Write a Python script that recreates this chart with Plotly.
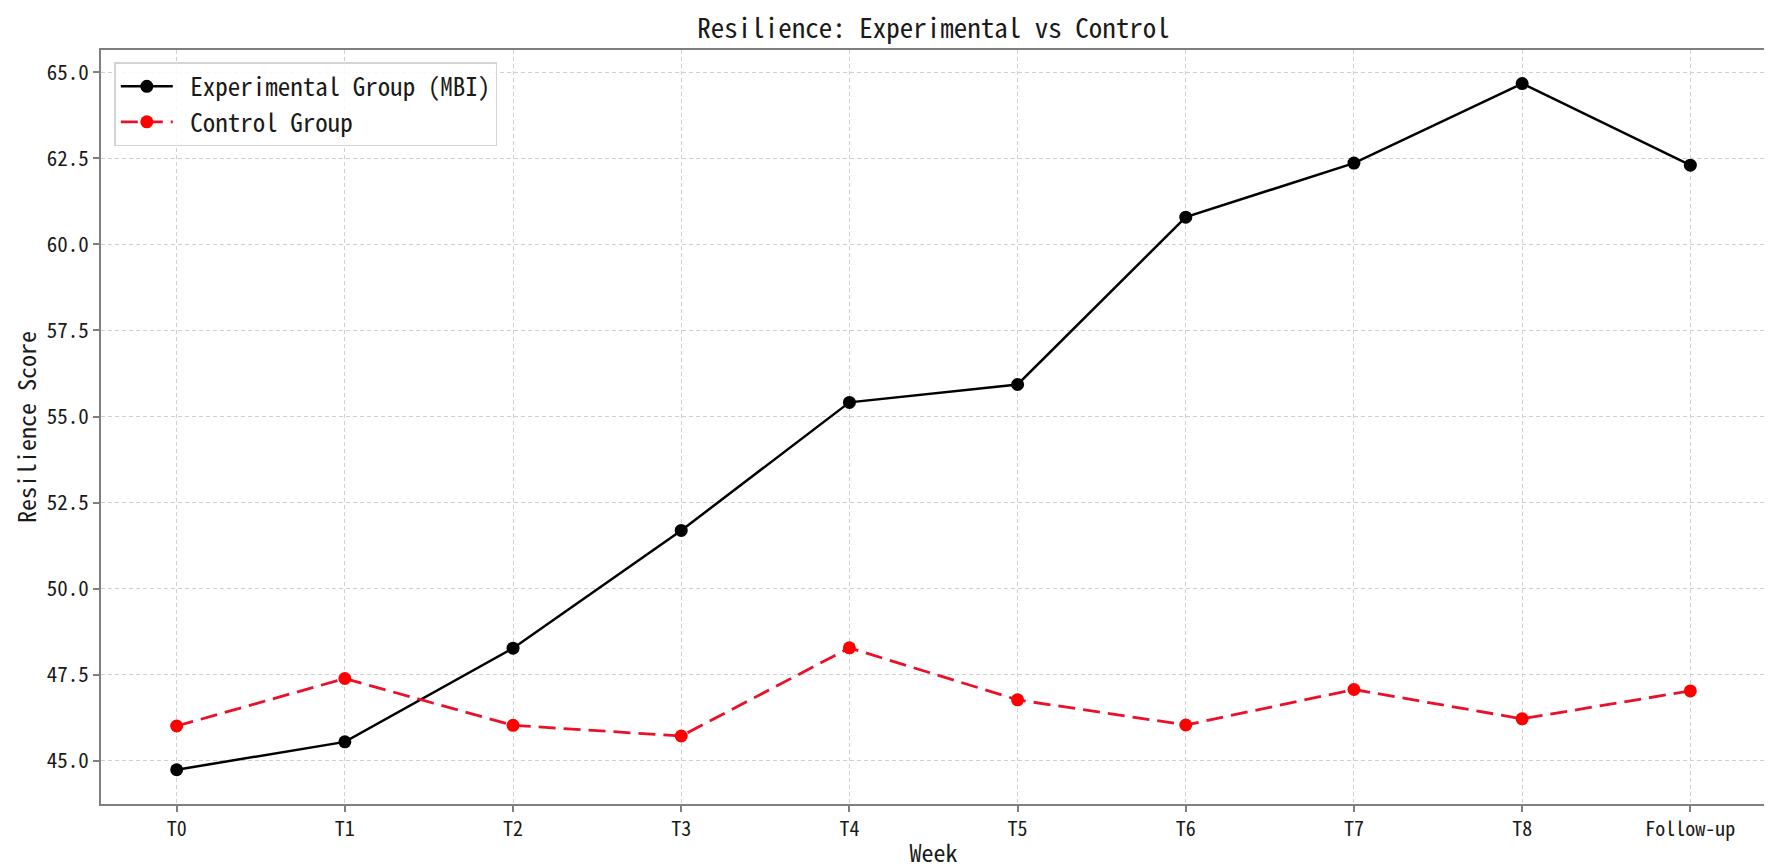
import plotly.graph_objects as go

weeks = ["T0", "T1", "T2", "T3", "T4", "T5", "T6", "T7", "T8", "Follow-up"]
experimental = [44.74, 45.55, 48.27, 51.69, 55.41, 55.93, 60.79, 62.36, 64.67, 62.30]
control = [46.01, 47.39, 46.03, 45.72, 48.28, 46.77, 46.04, 47.07, 46.22, 47.03]
y_ticks = [45.0, 47.5, 50.0, 52.5, 55.0, 57.5, 60.0, 62.5, 65.0]

FONT = "Noto Sans Mono CJK SC, DejaVu Sans Mono, monospace"
TXT = "#1a1a1a"
AXIS = "#7f7f7f"
GRID = "#d0d0d0"

fig = go.Figure()
fig.add_trace(go.Scatter(
    x=weeks, y=experimental, mode="lines+markers",
    name="\u00a0Experimental Group (MBI)",
    line=dict(color="black", width=2.5),
    marker=dict(color="black", size=13),
))
fig.add_trace(go.Scatter(
    x=weeks, y=control, mode="lines+markers",
    name="\u00a0Control Group",
    line=dict(color="#ea1029", width=2.8, dash="17px,8px"),
    marker=dict(color="#ff0000", size=13),
))

fig.update_layout(
    width=1772, height=867,
    margin=dict(l=93, r=12, t=42, b=66),
    paper_bgcolor="white", plot_bgcolor="white",
    font=dict(family=FONT, color=TXT, size=21),
    title=dict(text="Resilience: Experimental vs Control", x=0.5, xref="paper",
               y=1 - 21 / 867, yanchor="middle", xanchor="center",
               font=dict(family=FONT, size=27, color=TXT)),
    showlegend=True,
    legend=dict(x=0.008, y=0.984, xanchor="left", yanchor="top",
                bgcolor="rgba(255,255,255,0.85)", bordercolor="#d4d4d4", borderwidth=1.5,
                font=dict(family=FONT, size=25, color=TXT), itemwidth=52,
                tracegroupgap=0),
)

fig.update_xaxes(
    type="category", range=[-0.45, 9.45],
    showline=True, linecolor=AXIS, linewidth=2, mirror=True,
    ticks="outside", ticklen=6, tickcolor=AXIS, tickwidth=1.5,
    showgrid=True, gridcolor=GRID, griddash="4px,3px", gridwidth=1,
    tickfont=dict(family=FONT, size=20, color=TXT),
    title=dict(text="Week", font=dict(family=FONT, size=24, color=TXT), standoff=4),
    zeroline=False,
)
fig.update_yaxes(
    range=[43.745, 65.645], tickmode="array", tickvals=y_ticks,
    ticktext=[f"{v:.1f}" for v in y_ticks],
    showline=True, linecolor=AXIS, linewidth=2, mirror=True,
    ticks="outside", ticklen=6, tickcolor=AXIS, tickwidth=1.5,
    showgrid=True, gridcolor=GRID, griddash="4px,3px", gridwidth=1,
    tickfont=dict(family=FONT, size=21, color=TXT),
    title=dict(text="Resilience Score", font=dict(family=FONT, size=24, color=TXT), standoff=6),
    zeroline=False,
)

fig.write_html("out.html")
